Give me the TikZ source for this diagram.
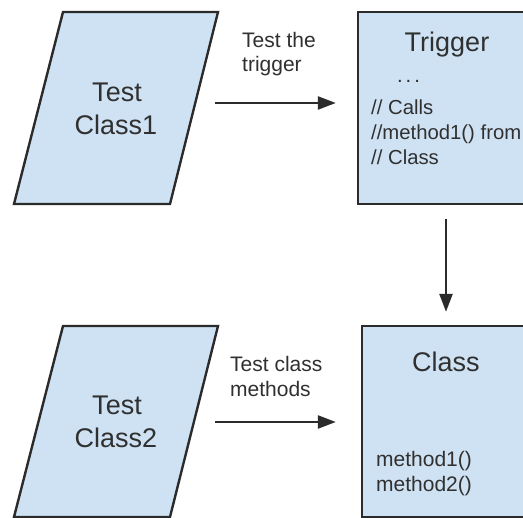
\documentclass[tikz,border=0pt]{standalone}
\usepackage{fontspec}
\setmainfont{Liberation Sans}
\usetikzlibrary{arrows.meta}
\definecolor{boxfill}{HTML}{CFE2F3}
\definecolor{boxline}{HTML}{2B2B2B}
\definecolor{txt}{HTML}{303030}
\tikzset{
  box/.style={draw=boxline, fill=boxfill, line width=2.4pt},
  arr/.style={draw=boxline, line width=2.4pt, -{Triangle[length=18pt,width=13pt]}},
  big/.style={text=txt, inner sep=0pt, font=\fontsize{27}{32}\selectfont},
  mid/.style={text=txt, inner sep=0pt, font=\fontsize{21}{25}\selectfont},
  sml/.style={text=txt, inner sep=0pt, font=\fontsize{20.3}{25}\selectfont},
}
\begin{document}
\begin{tikzpicture}[x=1pt,y=-1pt]
\useasboundingbox (0,0) rectangle (523,518);
\clip (0,0) rectangle (523,518);
\fill[white] (0,0) rectangle (523,518);

% parallelograms
\draw[box] (63,12) -- (218,12) -- (170,204) -- (14,204) -- cycle;
\draw[box] (63,326) -- (218,326) -- (170,517) -- (14,517) -- cycle;

\node[big, anchor=base] (tc1a) at (117,102) {Test};
\node[big, anchor=base] (tc1b) at (116,135) {Class1};
\node[big, anchor=base] (tc2a) at (117,415) {Test};
\node[big, anchor=base] (tc2b) at (116,448) {Class2};

% rectangles
\node[box, minimum width=168pt, minimum height=192pt, inner sep=0pt] (trig) at (442,108) {};
\node[box, minimum width=164pt, minimum height=191pt, inner sep=0pt] (cls) at (444,421.5) {};

\node[big, anchor=base] (trigtitle) at (447,52) {Trigger};
\node[sml, anchor=base] (trigdots) at (408.5,83) {.\hspace{3pt}.\hspace{3pt}.};
\node[sml, anchor=base west] (trigl1) at (371,115) {// Calls};
\node[sml, anchor=base west] (trigl2) at (371,140) {//method1() from};
\node[sml, anchor=base west] (trigl3) at (371,165) {// Class};

\node[big, anchor=base] (clstitle) at (446,372) {Class};
\node[mid, anchor=base west] (clsm1) at (376,467) {method1()};
\node[mid, anchor=base west] (clsm2) at (376,492) {method2()};

% labels
\node[mid, anchor=base west] (lab1a) at (242,48) {Test the};
\node[mid, anchor=base west] (lab1b) at (242,72) {trigger};
\node[mid, anchor=base west] (lab2a) at (230,372) {Test class};
\node[mid, anchor=base west] (lab2b) at (230,397) {methods};

% connectors
\coordinate (s1) at (215,103);
\coordinate (s2) at (215,422);
\draw[arr, shorten >=21pt] (s1) -- (s1 -| trig.west);
\draw[arr, shorten >=25pt] (s2) -- (s2 -| cls.west);
\draw[arr, shorten <=14pt, shorten >=13pt] ([xshift=4pt]trig.south) -- ([xshift=2pt]cls.north);
\end{tikzpicture}
\end{document}
